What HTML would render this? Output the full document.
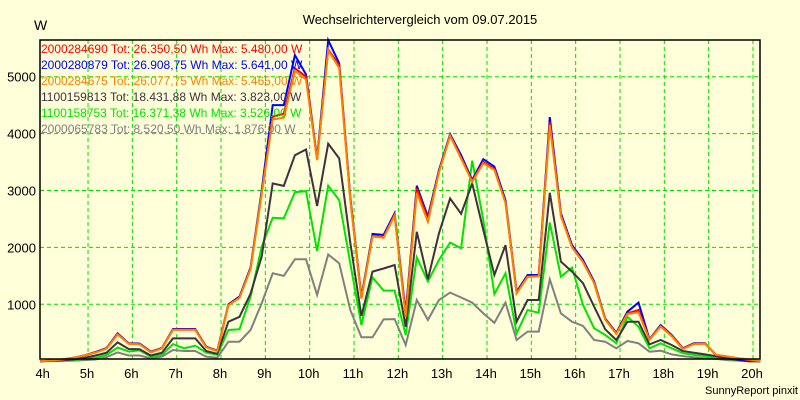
<!DOCTYPE html>
<html><head><meta charset="utf-8"><style>
body{margin:0;background:#ffffd9;}
svg{display:block;font-family:"Liberation Sans",Arial,sans-serif;}
</style></head><body>
<svg id="chart" width="800" height="400">
<rect x="0" y="0" width="800" height="400" fill="#ffffd9"/>
<text x="420" y="24" font-size="13" text-anchor="middle" fill="#000">Wechselrichtervergleich vom 09.07.2015</text>
<text x="34" y="30" font-size="14" fill="#000">W</text>
<text x="798" y="394" font-size="11" text-anchor="end" fill="#000">SunnyReport pinxit</text>
<g id="grid"></g>
<g id="ticks"></g>
<g id="series"></g>
<rect x="40" y="40" width="720" height="319" fill="none" stroke="#000" stroke-width="1.5"/>
<g id="legend"></g>
</svg>
<script>
const times=["03:55","04:10","04:25","04:40","04:55","05:10","05:25","05:40","05:55","06:10","06:25","06:40","06:55","07:10","07:25","07:40","07:55","08:10","08:25","08:40","08:55","09:10","09:25","09:40","09:55","10:10","10:25","10:40","10:55","11:10","11:25","11:40","11:55","12:10","12:25","12:40","12:55","13:10","13:25","13:40","13:55","14:10","14:25","14:40","14:55","15:10","15:25","15:40","15:55","16:10","16:25","16:40","16:55","17:10","17:25","17:40","17:55","18:10","18:25","18:40","18:55","19:10","19:25","19:40","19:55","20:10"];
const blue=[0,10,30,60,100,160,230,490,315,310,167,232,566,566,566,255,185,1000,1135,1650,3000,4500,4500,5380,5040,3565,5641,5235,2890,1134,2235,2220,2600,850,3085,2540,3360,3990,3620,3185,3550,3420,2830,1220,1515,1515,4290,2600,2040,1780,1400,750,500,870,1030,385,635,460,226,315,315,110,80,30,10,0];
const red=[0,10,30,60,100,155,225,480,310,300,160,228,556,556,556,250,180,990,1120,1630,2950,4300,4350,5150,5000,3540,5480,5200,2850,1110,2200,2180,2570,800,3040,2500,3330,3970,3580,3160,3500,3380,2790,1200,1490,1500,4200,2560,2010,1750,1380,740,490,840,900,380,620,450,220,310,310,110,80,50,20,0];
const orange=[0,10,30,60,100,150,220,470,305,295,155,225,550,550,550,245,175,985,1110,1620,2940,4250,4280,5100,4950,3530,5465,5150,2840,1100,2190,2170,2560,780,2960,2450,3320,3960,3560,3150,3480,3360,2780,1190,1480,1490,4150,2550,2000,1740,1370,730,480,830,860,375,610,440,215,300,305,115,85,55,30,0];
const dark=[0,5,15,30,60,100,150,330,215,210,100,150,400,400,400,180,130,695,780,1190,1840,3125,3080,3620,3720,2730,3823,3565,2080,795,1575,1630,1690,605,2275,1440,2250,2860,2590,3125,2305,1515,2040,695,1075,1075,2960,1750,1575,1370,960,560,373,695,695,296,373,285,180,150,120,90,50,20,0,0];
const green=[0,3,10,20,40,60,110,240,170,190,80,110,300,226,272,150,110,548,560,1135,2010,2520,2510,2970,2990,1940,3085,2830,1720,635,1475,1240,1240,460,1825,1400,1780,2085,1985,3526,2480,1180,1545,490,900,850,2435,1485,1645,990,580,460,315,780,606,226,315,226,140,110,90,60,40,15,0,0];
const gray=[0,2,5,10,20,30,70,155,100,100,50,80,197,180,180,80,60,343,343,550,1020,1545,1500,1790,1790,1165,1876,1720,900,420,420,735,740,285,1075,725,1075,1205,1120,1030,840,675,1030,373,520,520,1440,840,695,620,373,343,226,355,315,167,185,120,90,70,50,40,20,10,0,0];
const hourLabels=["4h","5h","6h","7h","8h","9h","10h","11h","12h","13h","14h","15h","16h","17h","18h","19h","20h"];
const yTicks=[1000,2000,3000,4000,5000];
const legendLabels=["2000284690 Tot: 26.350,50 Wh Max: 5.480,00 W","2000280879 Tot: 26.908,75 Wh Max: 5.641,00 W","2000284675 Tot: 26.077,75 Wh Max: 5.465,00 W","1100159813 Tot: 18.431,88 Wh Max: 3.823,00 W","1100158753 Tot: 16.371,38 Wh Max: 3.526,00 W","2000065783 Tot: 8.520,50 Wh Max: 1.876,00 W"];

const NS="http://www.w3.org/2000/svg";
function xs(t){const p=t.split(":");const h=+p[0]+(+p[1])/60;return 43.7+(h-4)*44.33;}
function xh(h){return 43.7+h*44.33;}
function ys(v){return 361.2-v*0.0569;}
function mk(tag,attrs,parent){const e=document.createElementNS(NS,tag);for(const k in attrs)e.setAttribute(k,attrs[k]);parent.appendChild(e);return e;}
const grid=document.getElementById('grid'),ticks=document.getElementById('ticks'),ser=document.getElementById('series'),leg=document.getElementById('legend');
yTicks.forEach(v=>{
 const l=mk('line',{x1:40,x2:760,y1:ys(v),y2:ys(v),stroke:'#00e000','stroke-dasharray':'4,3','stroke-width':1},grid);
 
 
 const t=mk('text',{x:36,y:ys(v)+5,'font-size':13,'text-anchor':'end',fill:'#000'},ticks);
 t.textContent=v;
 
 
});
hourLabels.forEach((lab,i)=>{
 if(i>0){const l=mk('line',{x1:xh(i),x2:xh(i),y1:40,y2:359,stroke:'#00e000','stroke-dasharray':'4,3','stroke-width':1},grid);
 
 }
 const t=mk('text',{x:xh(i)-1,y:378,'font-size':13,'text-anchor':'middle',fill:'#000'},ticks);
 t.textContent=lab;
 
 
});
const seriesList=[[gray,'#808080','series-2000065783'],[green,'#00e400','series-1100158753'],[dark,'#403040','series-1100159813'],[blue,'#0000ff','series-2000280879'],[red,'#ff0000','series-2000284690'],[orange,'#ff8000','series-2000284675']];
seriesList.forEach(s=>{
 const pts=s[0].map((v,i)=>xs(times[i]).toFixed(1)+','+ys(v).toFixed(1)).join(' ');
 const p=mk('polyline',{points:pts,fill:'none',stroke:s[1],'stroke-width':2,'stroke-linejoin':'miter'},ser);
 
 
});
const legColors=['#ff0000','#0000ff','#ff8000','#403040','#00e400','#808080'];
legendLabels.forEach((lab,i)=>{
 const t=mk('text',{x:41,y:53+i*16,'font-size':12,fill:legColors[i]},leg);
 t.textContent=lab;
 
 
});
</script>
</body></html>
